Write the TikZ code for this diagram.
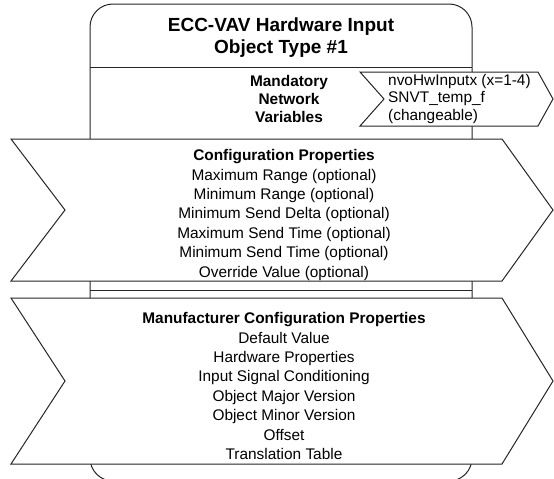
\documentclass[tikz,border=0pt]{standalone}
\usepackage{fontspec}
\setmainfont{Liberation Sans}
\usetikzlibrary{positioning}

\tikzset{
  outline/.style={draw=black!85,line width=1pt,fill=white,line join=miter},
  heading/.style={font=\fontsize{19}{22.5}\selectfont\bfseries,align=center,inner sep=0pt},
  listtext/.style={font=\fontsize{15.4}{19.4}\selectfont,align=center,inner sep=0pt},
  nvtext/.style={font=\fontsize{15.4}{17.8}\selectfont,inner sep=0pt},
}

\begin{document}
\begin{tikzpicture}[x=1pt,y=-1pt]
\useasboundingbox (0,0) rectangle (554,479);
% object frame
\draw[outline,rounded corners=23] (90,4) rectangle (472,481);
\draw[outline] (90,67) -- (472,67);
\draw[outline] (90,290) -- (472,290);
% network variable arrow
\draw[outline] (360,72) -- (538,72) -- (553,99) -- (538,126) -- (360,126) -- (384,99) -- cycle;
% property arrows
\draw[outline] (11,139) -- (502,139) -- (553,210) -- (502,281) -- (11,281) -- (65,210) -- cycle;
\draw[outline] (11,298) -- (502,298) -- (553,381) -- (502,464) -- (11,464) -- (65,381) -- cycle;

\node[heading] (title) at (281,37.5) {ECC-VAV Hardware Input\\Object Type \#1};
\node[nvtext,align=center,font=\fontsize{15.4}{17.8}\selectfont\bfseries] (mnv) at (289,99) {Mandatory\\Network\\Variables};
\node[nvtext,align=left,anchor=west] (nvo) at (388,99) {nvoHwInputx (x=1-4)\\SNVT\_temp\_f\\(changeable)};
\node[listtext] (cfg) at (284,215) {\textbf{Configuration Properties}\\Maximum Range (optional)\\Minimum Range (optional)\\Minimum Send Delta (optional)\\Maximum Send Time (optional)\\Minimum Send Time (optional)\\Override Value (optional)};
\node[listtext] (mcfg) at (284,386) {\textbf{Manufacturer Configuration Properties}\\Default Value\\Hardware Properties\\Input Signal Conditioning\\Object Major Version\\Object Minor Version\\Offset\\Translation Table};
\end{tikzpicture}
\end{document}
